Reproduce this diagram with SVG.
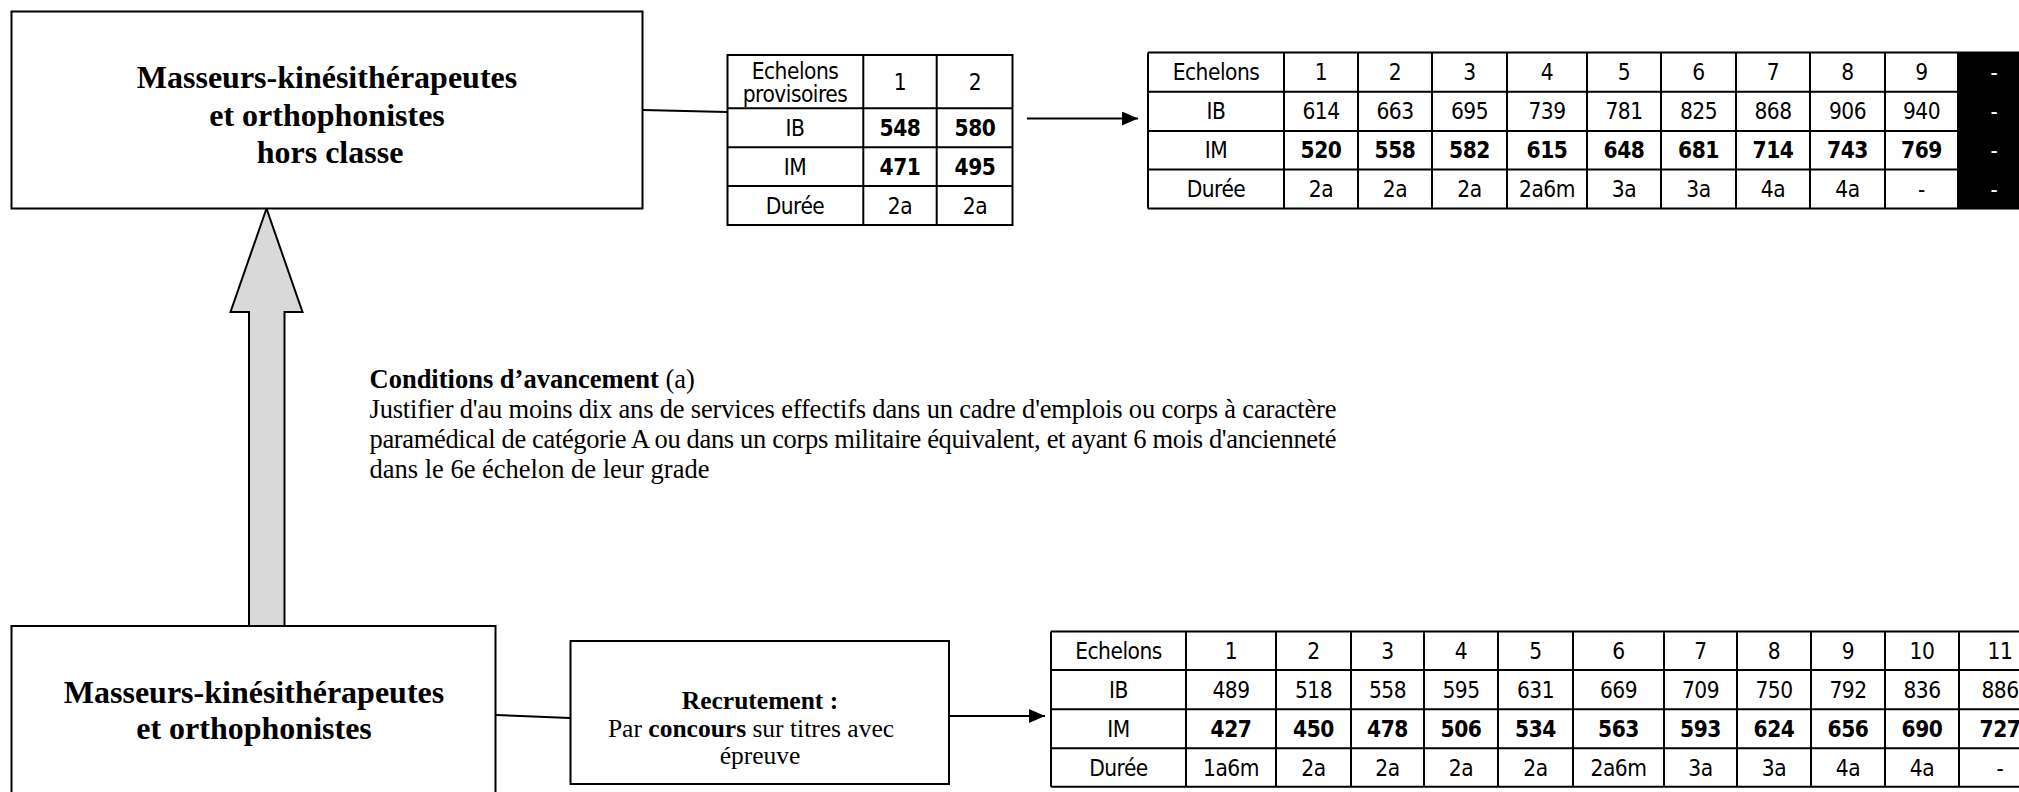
<svg xmlns="http://www.w3.org/2000/svg" width="2019" height="792" viewBox="0 0 2019 792">
<style>
.box{fill:#fff;stroke:#000;stroke-width:2}
.grid{fill:none;stroke:#000;stroke-width:2}
.conn{fill:none;stroke:#000;stroke-width:2}
.title{font-family:"Liberation Serif","Times New Roman",serif;font-weight:bold;font-size:32px;text-anchor:middle;fill:#000}
.rec{font-family:"Liberation Serif","Times New Roman",serif;font-size:25.5px;text-anchor:middle;fill:#000}
.para{font-family:"Liberation Serif","Times New Roman",serif;font-size:26.5px;fill:#000}
.t{font-family:"DejaVu Sans Condensed","DejaVu Sans",sans-serif;font-stretch:condensed;font-size:22.5px;letter-spacing:-0.5px;text-anchor:middle;fill:#000}
.b{font-weight:bold}
.w{fill:#fff}
</style>
<defs>
<marker id="ah" viewBox="0 0 16 14" refX="16" refY="7" markerWidth="16" markerHeight="14" markerUnits="userSpaceOnUse" orient="auto">
<path d="M0,0 L16,7 L0,14 Z" fill="#000"/>
</marker>
</defs>
<rect width="2019" height="792" fill="#fff"/>

<g id="connectors">
<line class="conn" x1="643" y1="110" x2="727" y2="112"/>
<line class="conn" x1="1027" y1="118.5" x2="1138" y2="118.5" marker-end="url(#ah)"/>
<line class="conn" x1="496" y1="715" x2="570" y2="718"/>
<line class="conn" x1="950" y1="716" x2="1045" y2="716" marker-end="url(#ah)"/>
<polygon id="promo-arrow" points="266.5,208.5 302.5,312 284.5,312 284.5,626 249,626 249,312 230.5,312" fill="#d9d9d9" stroke="#000" stroke-width="2" stroke-linejoin="miter"/>
</g>

<g id="node-hors-classe">
<rect class="box" x="11.5" y="11.5" width="631" height="197"/>
<text class="title" x="327" y="88">Masseurs-kinésithérapeutes</text>
<text class="title" x="327" y="125.5">et orthophonistes</text>
<text class="title" x="330" y="163">hors classe</text>
</g>

<g id="node-classe-normale">
<rect class="box" x="11.5" y="626" width="484" height="190"/>
<text class="title" x="254" y="703">Masseurs-kinésithérapeutes</text>
<text class="title" x="254" y="739">et orthophonistes</text>
</g>

<g id="node-recrutement">
<rect class="box" x="570.5" y="641" width="378.5" height="143"/>
<text class="rec" x="760" y="709" font-weight="bold" font-size="27.5">Recrutement :</text>
<text class="rec" x="751" y="737">Par <tspan font-weight="bold">concours</tspan> sur titres avec</text>
<text class="rec" x="760" y="764">épreuve</text>
</g>

<g id="node-conditions">
<text class="para" x="369.5" y="388"><tspan font-weight="bold">Conditions d’avancement</tspan> (a)</text>
<text class="para" x="369.5" y="418" textLength="967" lengthAdjust="spacing">Justifier d'au moins dix ans de services effectifs dans un cadre d'emplois ou corps à caractère</text>
<text class="para" x="369.5" y="448" textLength="967" lengthAdjust="spacing">paramédical de catégorie A ou dans un corps militaire équivalent, et ayant 6 mois d'ancienneté</text>
<text class="para" x="369.5" y="478">dans le 6e échelon de leur grade</text>
</g>

<g id="table-provisoire">
<rect class="grid" x="727.5" y="55" width="285" height="170"/>
<path class="grid" d="M727.5,108.3H1012.5M727.5,147.3H1012.5M727.5,186H1012.5M863.3,55V225M936.7,55V225"/>
<text class="t" x="795" y="78.5">Echelons</text>
<text class="t" x="795" y="101.5">provisoires</text>
<text class="t" x="900" y="89.5">1</text>
<text class="t" x="975" y="89.5">2</text>
<text class="t" x="795" y="135.8">IB</text>
<text class="t b" x="900" y="135.8">548</text>
<text class="t b" x="975" y="135.8">580</text>
<text class="t" x="795" y="174.7">IM</text>
<text class="t b" x="900" y="174.7">471</text>
<text class="t b" x="975" y="174.7">495</text>
<text class="t" x="795" y="213.5">Durée</text>
<text class="t" x="900" y="213.5">2a</text>
<text class="t" x="975" y="213.5">2a</text>
</g>

<g id="table-hors-classe">
<rect x="1958" y="52.5" width="80" height="156" fill="#000"/>
<path class="grid" d="M1148,52.5H2040M1148,208.5H2040M1148,91.7H1958M1148,131H1958M1148,169.5H1958M1148,52.5V208.5M1284,52.5V208.5M1358,52.5V208.5M1432,52.5V208.5M1507,52.5V208.5M1587,52.5V208.5M1661,52.5V208.5M1736,52.5V208.5M1810,52.5V208.5M1885,52.5V208.5M1958,52.5V208.5"/>
<text class="t" x="1216" y="80.1">Echelons</text>
<text class="t" x="1321" y="80.1">1</text>
<text class="t" x="1395" y="80.1">2</text>
<text class="t" x="1469.5" y="80.1">3</text>
<text class="t" x="1547" y="80.1">4</text>
<text class="t" x="1624" y="80.1">5</text>
<text class="t" x="1698.5" y="80.1">6</text>
<text class="t" x="1773" y="80.1">7</text>
<text class="t" x="1847.5" y="80.1">8</text>
<text class="t" x="1921.5" y="80.1">9</text>
<text class="t w" x="1994" y="80.1">-</text>
<text class="t" x="1216" y="119.3">IB</text>
<text class="t" x="1321" y="119.3">614</text>
<text class="t" x="1395" y="119.3">663</text>
<text class="t" x="1469.5" y="119.3">695</text>
<text class="t" x="1547" y="119.3">739</text>
<text class="t" x="1624" y="119.3">781</text>
<text class="t" x="1698.5" y="119.3">825</text>
<text class="t" x="1773" y="119.3">868</text>
<text class="t" x="1847.5" y="119.3">906</text>
<text class="t" x="1921.5" y="119.3">940</text>
<text class="t w" x="1994" y="119.3">-</text>
<text class="t" x="1216" y="158.3">IM</text>
<text class="t b" x="1321" y="158.3">520</text>
<text class="t b" x="1395" y="158.3">558</text>
<text class="t b" x="1469.5" y="158.3">582</text>
<text class="t b" x="1547" y="158.3">615</text>
<text class="t b" x="1624" y="158.3">648</text>
<text class="t b" x="1698.5" y="158.3">681</text>
<text class="t b" x="1773" y="158.3">714</text>
<text class="t b" x="1847.5" y="158.3">743</text>
<text class="t b" x="1921.5" y="158.3">769</text>
<text class="t w" x="1994" y="158.3">-</text>
<text class="t" x="1216" y="197">Durée</text>
<text class="t" x="1321" y="197">2a</text>
<text class="t" x="1395" y="197">2a</text>
<text class="t" x="1469.5" y="197">2a</text>
<text class="t" x="1547" y="197">2a6m</text>
<text class="t" x="1624" y="197">3a</text>
<text class="t" x="1698.5" y="197">3a</text>
<text class="t" x="1773" y="197">4a</text>
<text class="t" x="1847.5" y="197">4a</text>
<text class="t" x="1921.5" y="197">-</text>
<text class="t w" x="1994" y="197">-</text>
</g>

<g id="table-classe-normale">
<path class="grid" d="M1051,631.5H2045M1051,670H2045M1051,709.3H2045M1051,748.3H2045M1051,786.7H2045M1051,631.5V786.7M1186,631.5V786.7M1276,631.5V786.7M1351,631.5V786.7M1424,631.5V786.7M1498,631.5V786.7M1573,631.5V786.7M1664,631.5V786.7M1737,631.5V786.7M1811,631.5V786.7M1885,631.5V786.7M1959,631.5V786.7M2041,631.5V786.7"/>
<text class="t" x="1118.5" y="658.8">Echelons</text>
<text class="t" x="1231" y="658.8">1</text>
<text class="t" x="1313.5" y="658.8">2</text>
<text class="t" x="1387.5" y="658.8">3</text>
<text class="t" x="1461" y="658.8">4</text>
<text class="t" x="1535.5" y="658.8">5</text>
<text class="t" x="1618.5" y="658.8">6</text>
<text class="t" x="1700.5" y="658.8">7</text>
<text class="t" x="1774" y="658.8">8</text>
<text class="t" x="1848" y="658.8">9</text>
<text class="t" x="1922" y="658.8">10</text>
<text class="t" x="2000" y="658.8">11</text>
<text class="t" x="1118.5" y="697.7">IB</text>
<text class="t" x="1231" y="697.7">489</text>
<text class="t" x="1313.5" y="697.7">518</text>
<text class="t" x="1387.5" y="697.7">558</text>
<text class="t" x="1461" y="697.7">595</text>
<text class="t" x="1535.5" y="697.7">631</text>
<text class="t" x="1618.5" y="697.7">669</text>
<text class="t" x="1700.5" y="697.7">709</text>
<text class="t" x="1774" y="697.7">750</text>
<text class="t" x="1848" y="697.7">792</text>
<text class="t" x="1922" y="697.7">836</text>
<text class="t" x="2000" y="697.7">886</text>
<text class="t" x="1118.5" y="736.8">IM</text>
<text class="t b" x="1231" y="736.8">427</text>
<text class="t b" x="1313.5" y="736.8">450</text>
<text class="t b" x="1387.5" y="736.8">478</text>
<text class="t b" x="1461" y="736.8">506</text>
<text class="t b" x="1535.5" y="736.8">534</text>
<text class="t b" x="1618.5" y="736.8">563</text>
<text class="t b" x="1700.5" y="736.8">593</text>
<text class="t b" x="1774" y="736.8">624</text>
<text class="t b" x="1848" y="736.8">656</text>
<text class="t b" x="1922" y="736.8">690</text>
<text class="t b" x="2000" y="736.8">727</text>
<text class="t" x="1118.5" y="775.5">Durée</text>
<text class="t" x="1231" y="775.5">1a6m</text>
<text class="t" x="1313.5" y="775.5">2a</text>
<text class="t" x="1387.5" y="775.5">2a</text>
<text class="t" x="1461" y="775.5">2a</text>
<text class="t" x="1535.5" y="775.5">2a</text>
<text class="t" x="1618.5" y="775.5">2a6m</text>
<text class="t" x="1700.5" y="775.5">3a</text>
<text class="t" x="1774" y="775.5">3a</text>
<text class="t" x="1848" y="775.5">4a</text>
<text class="t" x="1922" y="775.5">4a</text>
<text class="t" x="2000" y="775.5">-</text>
</g>
</svg>
